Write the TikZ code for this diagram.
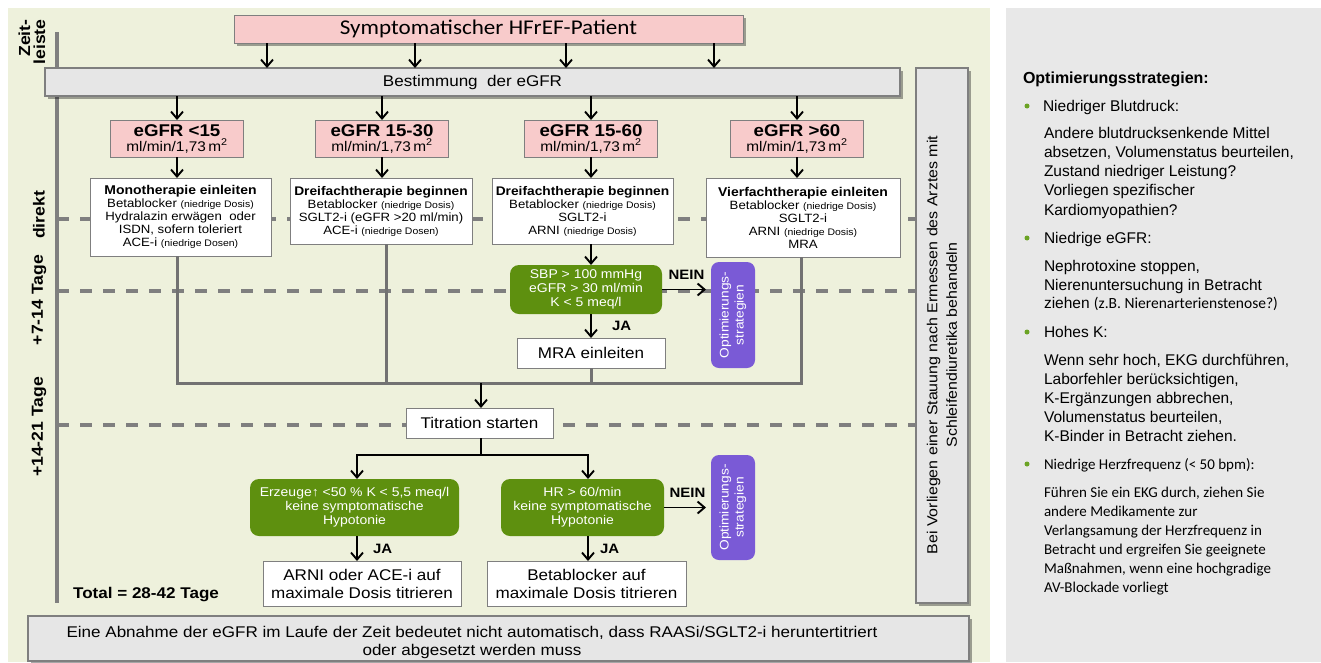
\documentclass[tikz,border=0pt]{standalone}
\usepackage{fontspec}
\setmainfont{Liberation Sans}
\newfontfamily\diagfont{Liberation Sans}[FakeStretch=1.1]
\newfontfamily\calibri{Carlito}
\newfontfamily\calibriwide{Carlito}[FakeStretch=1.1]
\usetikzlibrary{arrows.meta,shadows}

\definecolor{panelgreen}{HTML}{EEF1DC}
\definecolor{panelgray}{HTML}{E8E8E8}
\definecolor{boxpink}{HTML}{F8CBCB}
\definecolor{boxgray}{HTML}{E6E6E6}
\definecolor{okgreen}{HTML}{5E900F}
\definecolor{optviolet}{HTML}{7A5AD6}
\definecolor{linegray}{HTML}{7F7F7F}
\definecolor{dotgreen}{HTML}{6BA324}

\newcommand{\fsz}[2]{\fontsize{#1}{#2}\selectfont}
\newcommand{\dosis}[1]{{\fsz{9.5}{11}#1}}

\begin{document}
\begin{tikzpicture}[x=1pt,y=-1pt,
  every node/.style={inner sep=0pt,outer sep=0pt,align=center},
  boxline/.style={draw=linegray,line width=1pt},
  boxshadow/.style={drop shadow={shadow xshift=3pt,shadow yshift=-3pt,fill=black,opacity=0.35}},
  titlebox/.style={boxline,boxshadow,fill=boxpink,minimum width=509pt,minimum height=28pt,font=\calibriwide\fsz{21}{24}},
  greybox/.style={boxline,line width=1.3pt,boxshadow,fill=boxgray,font=\diagfont\fsz{15.5}{18}},
  pinkbox/.style={boxline,fill=boxpink,minimum width=133pt,minimum height=37pt,font=\diagfont\fsz{17}{15}},
  therapybox/.style={boxline,fill=white,minimum width=181pt,font=\diagfont\fsz{12}{13}},
  whitebox/.style={boxline,fill=white,font=\diagfont\fsz{15.5}{18}},
  checkbox/.style={fill=okgreen,rounded corners=9pt,minimum height=57pt,text=white,font=\diagfont\fsz{12.7}{14}},
  optbox/.style={fill=optviolet,rounded corners=8pt,rotate=90,minimum width=105pt,minimum height=44pt,text=white,font=\diagfont\fsz{12.5}{15}},
  lbl/.style={font=\diagfont\bfseries\fsz{13.6}{16}},
  zeitlbl/.style={rotate=90,font=\diagfont\bfseries\fsz{16}{15}},
  rtext/.style={anchor=base west,font=\fsz{15.5}{17}},
  ctext/.style={anchor=base west,font=\calibri\fsz{15}{17}},
  bulletdot/.style={circle,fill=dotgreen,minimum size=5pt},
  arr/.style={-{Straight Barb[length=7pt,width=12pt]},line width=1.9pt},
  mergeline/.style={linegray!90!black,line width=3pt},
  timeline/.style={linegray,line width=4pt},
  dashline/.style={linegray,line width=3.5pt,dash pattern=on 12pt off 11pt}]

\useasboundingbox (0,0) rectangle (1321,662);
\fill[white] (0,0) rectangle (1321,662);
\fill[panelgreen] (8,8) rectangle (990,662);
\fill[panelgray] (1006,8) rectangle (1321,662);

% Zeitleiste
\draw[timeline] (57,32) -- (57,603);
\foreach \y in {219,291,425}
  \draw[dashline] (57,\y) -- (916,\y);
\node[zeitlbl,align=right] (zeit) at (32,42) {Zeit-\\leiste};
\node[zeitlbl] (direkt) at (39,215) {direkt};
\node[zeitlbl] (tage1) at (39,300) {+7-14 Tage};
\node[zeitlbl] (tage2) at (39,427) {+14-21 Tage};

% oben
\node[titlebox] (patient) at (488.5,29) {Symptomatischer HFrEF-Patient};
\node[greybox,minimum width=855pt,minimum height=28pt] (egfr) at (472.5,82) {Bestimmung\ \ der eGFR};
\foreach \s in {-221.5,-73.5,77.5,225.5}
  \draw[arr] ([xshift=\s pt]patient.south) -- ([xshift=\s pt]patient.south |- egfr.north);

\foreach \n/\x/\lab in {g1/177/{<15},g2/382/{15-30},g3/591/{15-60},g4/797/{>60}}{
  \node[pinkbox] (\n) at (\x,138.5) {\textbf{eGFR \lab}\\{\fsz{14}{15}ml/min/1,73\,m\textsuperscript{2}}};
  \draw[arr] (egfr.south -| \n) -- (\n);
}

% Therapien
\node[therapybox,minimum height=78pt] (t1) at (180.5,217) {\textbf{\fsz{12.7}{13}Monotherapie einleiten}\\Betablocker \dosis{(niedrige Dosis)}\\Hydralazin erwägen\ \ oder\\ISDN, sofern toleriert\\ACE-i \dosis{(niedrige Dosen)}};
\node[therapybox,minimum width=182pt,minimum height=66pt] (t2) at (381,211) {\textbf{\fsz{12.5}{13}Dreifachtherapie beginnen}\\Betablocker \dosis{(niedrige Dosis)}\\SGLT2-i (eGFR >20 ml/min)\\ACE-i \dosis{(niedrige Dosen)}};
\node[therapybox,minimum height=66pt] (t3) at (582.5,211) {\textbf{\fsz{12.5}{13}Dreifachtherapie beginnen}\\Betablocker \dosis{(niedrige Dosis)}\\SGLT2-i\\ARNI \dosis{(niedrige Dosis)}};
\node[therapybox,minimum width=194pt,minimum height=79pt] (t4) at (803,217.5) {\textbf{\fsz{12.7}{13}Vierfachtherapie einleiten}\\Betablocker \dosis{(niedrige Dosis)}\\SGLT2-i\\ARNI \dosis{(niedrige Dosis)}\\MRA};
\foreach \n/\t in {g1/t1,g2/t2,g3/t3,g4/t4}
  \draw[arr] (\n) -- (\n |- \t.north);

% MRA-Zweig
\node[checkbox,minimum width=152pt,minimum height=49pt] (c1) at (586,289.5) {SBP > 100 mmHg\\eGFR > 30 ml/min\\K < 5 meq/l};
\node[optbox,minimum width=106pt] (o1) at (733,315) {Optimierungs-\\strategien};
\node[whitebox,minimum width=148pt,minimum height=30pt] (mra) at (591,353) {MRA einleiten};
\draw[arr] (g3 |- t3.south) -- (g3 |- c1.north);
\draw[arr] (c1.south -| g3) -- node[lbl,right=21pt] {JA} (g3 |- mra.north);
% o1 ist gedreht: north liegt links
\draw[arr,shorten >=5pt] (c1.east) -- node[lbl,above=10pt] {NEIN} (c1.east -| o1.north);

% Zusammenfuehrung
\coordinate (merge) at (481,383);
\draw[mergeline] ([xshift=-3.5pt]t1.south) |- (merge) -| ([xshift=-2pt]t4.south);
\draw[mergeline] ([xshift=5pt]t2.south) -- ([xshift=5pt]t2.south |- merge);
\draw[mergeline] (mra) -- (mra |- merge);

\node[whitebox,minimum width=147pt,minimum height=30pt] (tit) at (479.5,423) {Titration starten};
\draw[arr] (merge) -- (merge |- tit.north);

% Titration
\coordinate (split) at (481,455);
\node[checkbox,minimum width=209pt] (c2) at (354.5,507.5) {Erzeuge↑ <50 \% K < 5,5 meq/l\\keine symptomatische\\Hypotonie};
\node[checkbox,minimum width=163pt] (c3) at (582.5,507.5) {HR > 60/min\\keine symptomatische\\Hypotonie};
\node[optbox] (o2) at (733,507.5) {Optimierungs-\\strategien};
\node[whitebox,minimum width=198pt,minimum height=45pt] (r1) at (362,583.5) {ARNI oder ACE-i auf\\maximale Dosis titrieren};
\node[whitebox,minimum width=199pt,minimum height=45pt] (r2) at (586.5,583.5) {Betablocker auf\\maximale Dosis titrieren};
\draw[line width=1.9pt] (tit.south -| split) -- (split);
\draw[arr] (split) -| ([xshift=2.5pt]c2.north);
\draw[arr] (split) -| ([xshift=5.5pt]c3.north);
\draw[arr] ([xshift=2.5pt]c2.south) -- node[lbl,right=16pt] {JA} ([xshift=2.5pt]c2.south |- r1.north);
\draw[arr] ([xshift=5.5pt]c3.south) -- node[lbl,right=12pt] {JA} ([xshift=5.5pt]c3.south |- r2.north);
\draw[arr,shorten >=5pt] (c3.east) -- node[lbl,above=10pt] {NEIN} (c3.east -| o2.north);

\node[font=\diagfont\bfseries\fsz{15.5}{18}] (total) at (146,595) {Total = 28-42 Tage};

% rechts und unten
\node[greybox,minimum width=52pt,minimum height=535pt] (side) at (942,335.5) {};
\node[rotate=90,font=\diagfont\fsz{14.5}{19.5}] (sidetext) at (942,345) {Bei Vorliegen einer Stauung nach Ermessen des Arztes mit\\Schleifendiuretika behandeln};
\node[greybox,minimum width=941pt,minimum height=45pt] (note) at (498.5,638.5) {};
\node[font=\diagfont\fsz{15.5}{18}] (notetext) at (472,642) {Eine Abnahme der eGFR im Laufe der Zeit bedeutet nicht automatisch, dass RAASi/SGLT2-i heruntertitriert\\oder abgesetzt werden muss};

% Optimierungsstrategien
\node[anchor=base west,font=\bfseries\fsz{16}{18}] (opth) at (1023,83) {Optimierungsstrategien:};
\foreach \y [count=\i] in {106,238,332,464}
  \node[bulletdot] (dot\i) at (1027,\y) {};
\node[rtext] (h1) at (1043,111) {Niedriger Blutdruck:};
\foreach \txt [count=\i from 0] in {Andere blutdrucksenkende Mittel,{absetzen, Volumenstatus beurteilen,},Zustand niedriger Leistung?,Vorliegen spezifischer,Kardiomyopathien?}
  \node[rtext] (pa\i) at (1044,138+19.25*\i) {\txt};
\node[rtext] (h2) at (1044,243) {Niedrige eGFR:};
\node[rtext] (pb0) at (1044,271) {Nephrotoxine stoppen,};
\node[rtext] (pb1) at (1044,290) {Nierenuntersuchung in Betracht};
\node[rtext] (pb2) at (1044,308.5) {ziehen {\calibri(z.B. Nierenarterienstenose?)}};
\node[rtext] (h3) at (1044,337) {Hohes K:};
\foreach \txt [count=\i from 0] in {{Wenn sehr hoch, EKG durchführen,},{Laborfehler berücksichtigen,},{K-Ergänzungen abbrechen,},{Volumenstatus beurteilen,},K-Binder in Betracht ziehen.}
  \node[rtext] (pc\i) at (1044,365+19.2*\i) {\txt};
\node[ctext] (h4) at (1044,469) {Niedrige Herzfrequenz (< 50 bpm):};
\foreach \txt [count=\i from 0] in {{Führen Sie ein EKG durch, ziehen Sie},andere Medikamente zur,Verlangsamung der Herzfrequenz in,Betracht und ergreifen Sie geeignete,{Maßnahmen, wenn eine hochgradige},AV-Blockade vorliegt}
  \node[ctext] (pd\i) at (1044,497+19*\i) {\txt};
\end{tikzpicture}
\end{document}
